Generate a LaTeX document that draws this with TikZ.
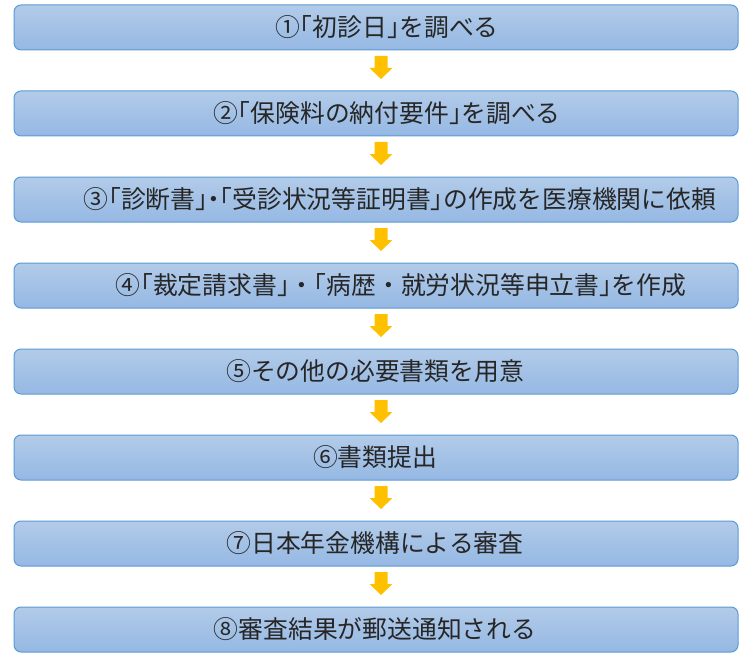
\documentclass[tikz,border=0pt]{standalone}
\usepackage{fontspec}
\newfontfamily\jp{Noto Sans CJK JP}
\newfontfamily\jph[RawFeature=+halt]{Noto Sans CJK JP}
\newcommand\hw[1]{{\jph #1}}
\definecolor{boxtop}{HTML}{B2CBE9}
\definecolor{boxbot}{HTML}{95B8E3}
\definecolor{boxline}{HTML}{5B9BD5}
\definecolor{arrowcol}{HTML}{FFC000}
\begin{document}
\begin{tikzpicture}[x=1pt,y=-1pt,
  stepbox/.style={draw=boxline, line width=1pt, rounded corners=7pt,
    top color=boxtop, bottom color=boxbot, minimum width=724pt,
    minimum height=45pt, inner sep=0pt},
  txt/.style={font=\jp\fontsize{24.8pt}{28pt}\selectfont, text=black!85, inner sep=0pt},
  flowarrow/.style={fill=arrowcol, draw=none}]
\useasboundingbox (0,0) rectangle (756,661);
\foreach \i/\t in {1/5,2/91,3/177,4/263,5/349,6/435,7/521,8/607}{
  \node[stepbox] (b\i) at (376,\t+22.5) {};
}
\node[txt] (t1) at (387,27.5) {①\hw{「}初診日\hw{」}を調べる};
\node[txt] (t2) at (387,113.5) {②\hw{「}保険料の納付要件\hw{」}を調べる};
\node[txt] (t3) at (400,199.5) {③\hw{「}診断書\hw{」・「}受診状況等証明書\hw{」}の作成を医療機関に依頼};
\node[txt] (t4) at (401,285.5) {④\hw{「}裁定請求書\hw{」}・\hw{「}病歴・就労状況等申立書\hw{」}を作成};
\node[txt] (t5) at (375,371.5) {⑤その他の必要書類を用意};
\node[txt] (t6) at (375,457.5) {⑥書類提出};
\node[txt] (t7) at (375,543.5) {⑦日本年金機構による審査};
\node[txt] (t8) at (375,629.5) {⑧審査結果が郵送通知される};
\foreach \i/\t in {1/5,2/91,3/177,4/263,5/349,6/435,7/521}{
  \fill[flowarrow] (374.5,\t+51) -- (387.5,\t+51) -- (387.5,\t+63) -- (392.5,\t+63)
    -- (381,\t+74) -- (369.5,\t+63) -- (374.5,\t+63) -- cycle;
}
\end{tikzpicture}
\end{document}
